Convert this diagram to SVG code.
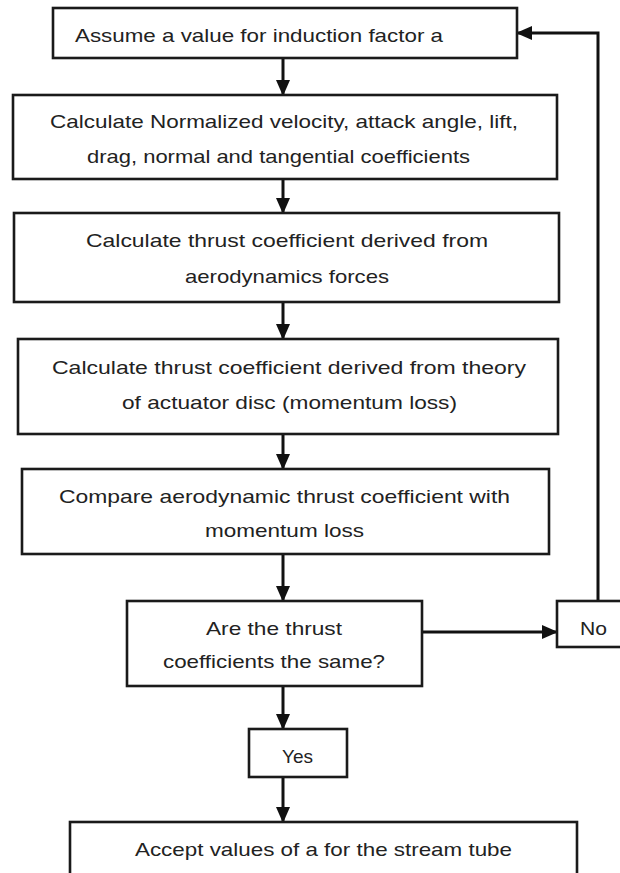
<svg xmlns="http://www.w3.org/2000/svg" width="620" height="873" viewBox="0 0 620 873">
<defs>
<style>
.box{fill:#fff;stroke:#1a1a1a;stroke-width:2.6}
.t{font-family:"Liberation Sans",Arial,sans-serif;font-size:19px;fill:#222}
.c{fill:none;stroke:#111;stroke-width:3}
</style>
<marker id="ah" markerWidth="16" markerHeight="14" refX="15" refY="7" orient="auto" markerUnits="userSpaceOnUse" viewBox="0 0 16 14">
<path d="M0,0 L16,7 L0,14 Z" fill="#111"/>
</marker>
</defs>
<rect width="620" height="873" fill="#fff"/>
<g id="connectors">
<path class="c" d="M283,58 V95" marker-end="url(#ah)"/>
<path class="c" d="M283,179 V213" marker-end="url(#ah)"/>
<path class="c" d="M283,302 V339" marker-end="url(#ah)"/>
<path class="c" d="M283,434 V469" marker-end="url(#ah)"/>
<path class="c" d="M283,554 V601" marker-end="url(#ah)"/>
<path class="c" d="M418,632 H557" marker-end="url(#ah)"/>
<path class="c" d="M598,601 V33 H517" marker-end="url(#ah)"/>
<path class="c" d="M283,686 V729" marker-end="url(#ah)"/>
<path class="c" d="M283,777 V822" marker-end="url(#ah)"/>
</g>
<g id="n1"><rect class="box" x="53" y="8" width="464" height="50"/><text class="t" x="75" y="42" textLength="368" lengthAdjust="spacingAndGlyphs">Assume a value for induction factor a</text></g>
<g id="n2"><rect class="box" x="13" y="95" width="544" height="84"/><text class="t" x="50" y="128" textLength="468" lengthAdjust="spacingAndGlyphs">Calculate Normalized velocity, attack angle, lift,</text><text class="t" x="87" y="163" textLength="383" lengthAdjust="spacingAndGlyphs">drag, normal and tangential coefficients</text></g>
<g id="n3"><rect class="box" x="14" y="213" width="545" height="89"/><text class="t" x="86" y="247" textLength="402" lengthAdjust="spacingAndGlyphs">Calculate thrust coefficient derived from</text><text class="t" x="185" y="283" textLength="204" lengthAdjust="spacingAndGlyphs">aerodynamics forces</text></g>
<g id="n4"><rect class="box" x="18" y="339" width="540" height="95"/><text class="t" x="52" y="374" textLength="474" lengthAdjust="spacingAndGlyphs">Calculate thrust coefficient derived from theory</text><text class="t" x="122" y="409" textLength="335" lengthAdjust="spacingAndGlyphs">of actuator disc (momentum loss)</text></g>
<g id="n5"><rect class="box" x="22" y="469" width="527" height="85"/><text class="t" x="59" y="503" textLength="451" lengthAdjust="spacingAndGlyphs">Compare aerodynamic thrust coefficient with</text><text class="t" x="205" y="537" textLength="159" lengthAdjust="spacingAndGlyphs">momentum loss</text></g>
<g id="n6"><rect class="box" x="127" y="601" width="295" height="85"/><text class="t" x="206" y="635" textLength="136" lengthAdjust="spacingAndGlyphs">Are the thrust</text><text class="t" x="163" y="668" textLength="222" lengthAdjust="spacingAndGlyphs">coefficients the same?</text></g>
<g id="n7"><rect class="box" x="557" y="601" width="70" height="46"/><text class="t" x="580" y="635" textLength="27" lengthAdjust="spacingAndGlyphs">No</text></g>
<g id="n8"><rect class="box" x="249" y="729" width="98" height="48"/><text class="t" x="282" y="763" textLength="31" lengthAdjust="spacingAndGlyphs">Yes</text></g>
<g id="n9"><rect class="box" x="70" y="822" width="507" height="60"/><text class="t" x="135" y="856" textLength="377" lengthAdjust="spacingAndGlyphs">Accept values of a for the stream tube</text></g>
</svg>
